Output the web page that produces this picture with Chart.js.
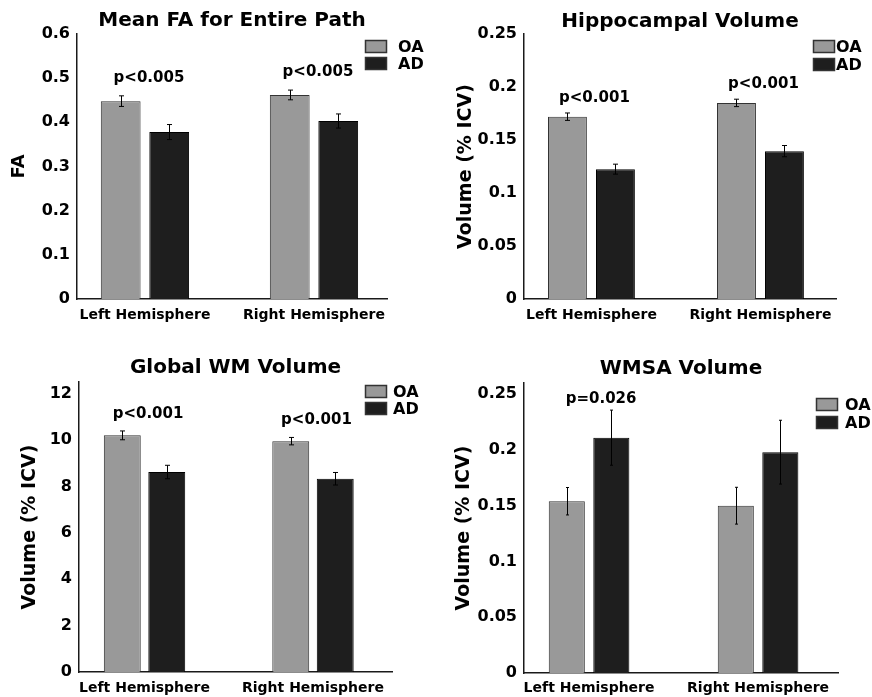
<!DOCTYPE html>
<html>
<head>
<meta charset="utf-8">
<script src="https://cdn.jsdelivr.net/npm/chart.js@4.4.1/dist/chart.umd.min.js"></script>
<style>
  body { margin: 0; background: #fff; }
  #wrap { position: relative; width: 872px; height: 697px; }
  canvas { position: absolute; }
</style>
</head>
<body>
<div id="wrap">
  <canvas id="chartFA" width="436" height="340" style="left:0;top:0"></canvas>
  <canvas id="chartHippo" width="436" height="340" style="left:436px;top:0"></canvas>
  <canvas id="chartWM" width="436" height="357" style="left:0;top:340px"></canvas>
  <canvas id="chartWMSA" width="436" height="357" style="left:436px;top:340px"></canvas>
</div>
<script>
const hemispheres = ["Left Hemisphere", "Right Hemisphere"];
const groups = ["OA", "AD"];

// Mean FA for entire path
const faOA = [0.448, 0.462];
const faAD = [0.378, 0.403];
const faOAErr = [0.012, 0.011];
const faADErr = [0.017, 0.016];
const faP = ["p<0.005", "p<0.005"];
const faTicks = [0, 0.1, 0.2, 0.3, 0.4, 0.5, 0.6];

// Hippocampal volume
const hippoOA = [0.172, 0.185];
const hippoAD = [0.1225, 0.1395];
const hippoOAErr = [0.0035, 0.0035];
const hippoADErr = [0.0047, 0.0053];
const hippoP = ["p<0.001", "p<0.001"];
const hippoTicks = [0, 0.05, 0.1, 0.15, 0.2, 0.25];

// Global WM volume
const wmOA = [10.2, 9.95];
const wmAD = [8.62, 8.33];
const wmOAErr = [0.19, 0.16];
const wmADErr = [0.29, 0.27];
const wmP = ["p<0.001", "p<0.001"];
const wmTicks = [0, 2, 4, 6, 8, 10, 12];

// WMSA volume
const wmsaOA = [0.154, 0.150];
const wmsaAD = [0.211, 0.198];
const wmsaOAErr = [0.0123, 0.0165];
const wmsaADErr = [0.0247, 0.0286];
const wmsaP = ["p=0.026", ""];
const wmsaTicks = [0, 0.05, 0.1, 0.15, 0.2, 0.25];

const FONT = "'DejaVu Sans', 'Liberation Sans', Arial, sans-serif";
const TEXT = "#000";
const COLORS = {
  oa: "#999999",
  oaEdge: "#333333",
  ad: "#1e1e1e",
  adEdge: "#000000",
  axis: "#1a1a1a"
};

Chart.defaults.font.family = FONT;
Chart.defaults.font.weight = "bold";
Chart.defaults.color = TEXT;

const errorBars = {
  id: "errorBars",
  afterDatasetsDraw(chart, args, opts) {
    const { ctx } = chart;
    const yScale = chart.scales.y;
    ctx.save();
    ctx.strokeStyle = "#000";
    ctx.lineWidth = 1;
    chart.data.datasets.forEach((ds, i) => {
      chart.getDatasetMeta(i).data.forEach((bar, j) => {
        const v = ds.data[j].y;
        const e = ds.errors[j];
        const x = Math.round(bar.x) + 0.5;
        const top = yScale.getPixelForValue(v + e);
        const bot = yScale.getPixelForValue(v - e);
        ctx.beginPath();
        ctx.moveTo(x, top);
        ctx.lineTo(x, bot);
        ctx.moveTo(x - opts.cap, top);
        ctx.lineTo(x + opts.cap, top);
        ctx.moveTo(x - opts.cap, bot);
        ctx.lineTo(x + opts.cap, bot);
        ctx.stroke();
      });
    });
    ctx.restore();
  }
};

const pValues = {
  id: "pValues",
  afterDatasetsDraw(chart, args, opts) {
    const { ctx } = chart;
    const yScale = chart.scales.y;
    const sets = chart.data.datasets;
    ctx.save();
    ctx.font = "bold 15px " + FONT;
    ctx.fillStyle = TEXT;
    ctx.textAlign = "center";
    ctx.textBaseline = "middle";
    opts.labels.forEach((txt, j) => {
      if (!txt) return;
      let top = Infinity;
      let xs = 0;
      sets.forEach((ds, i) => {
        xs += chart.getDatasetMeta(i).data[j].x;
        top = Math.min(top, yScale.getPixelForValue(ds.data[j].y + ds.errors[j]));
      });
      ctx.fillText(txt, xs / sets.length + opts.dx, top - opts.gap);
    });
    ctx.restore();
  }
};

const boxLegend = {
  id: "boxLegend",
  afterDraw(chart, args, opts) {
    const { ctx } = chart;
    ctx.save();
    ctx.font = "bold 16px " + FONT;
    ctx.textBaseline = "middle";
    ctx.textAlign = "left";
    chart.data.datasets.forEach((ds, i) => {
      const y = opts.y + i * opts.step;
      ctx.fillStyle = ds.backgroundColor;
      ctx.fillRect(opts.x, y, 22, 13);
      ctx.strokeStyle = "#333";
      ctx.lineWidth = 1.5;
      ctx.strokeRect(opts.x + 0.5, y + 0.5, 21, 12);
      ctx.fillStyle = TEXT;
      ctx.fillText(ds.label, opts.textX, y + 7.5);
    });
    ctx.restore();
  }
};

function fmt(v) {
  return String(Math.round(v * 1000) / 1000);
}

function renderPanel(canvasId, p) {
  const canvas = document.getElementById(canvasId);
  const toPoints = (arr) => arr.map((v, i) => ({ x: i + 1, y: v }));

  new Chart(canvas, {
    type: "bar",
    data: {
      datasets: [
        {
          label: groups[0],
          data: toPoints(p.oa),
          errors: p.oaErr,
          backgroundColor: COLORS.oa,
          borderColor: COLORS.oaEdge,
          borderWidth: 1
        },
        {
          label: groups[1],
          data: toPoints(p.ad),
          errors: p.adErr,
          backgroundColor: COLORS.ad,
          borderColor: COLORS.adEdge,
          borderWidth: 1
        }
      ]
    },
    options: {
      responsive: false,
      animation: false,
      categoryPercentage: p.catPct,
      barPercentage: p.barPct,
      layout: {
        padding: { left: 0, right: p.padRight, top: 0, bottom: 0 }
      },
      plugins: {
        legend: { display: false },
        tooltip: { enabled: false },
        title: {
          display: true,
          text: p.title,
          fullSize: false,
          color: TEXT,
          font: { size: 20, weight: "bold" },
          padding: { top: p.titleTop, bottom: p.titleBottom }
        },
        errorBars: { cap: p.cap },
        pValues: { labels: p.pvals, gap: p.pGap, dx: p.pDx },
        boxLegend: p.legend
      },
      scales: {
        x: {
          type: "linear",
          min: p.xMin,
          max: p.xMax,
          offset: false,
          grid: { display: false, drawTicks: false, offset: false },
          border: { display: true, color: COLORS.axis, width: 1.5 },
          afterBuildTicks(scale) {
            scale.ticks = hemispheres.map((h, i) => ({ value: i + 1 }));
          },
          afterFit(scale) {
            scale.height = p.xHeight;
          },
          ticks: {
            autoSkip: false,
            maxRotation: 0,
            padding: p.xPad,
            font: { size: 14, weight: "bold" },
            callback: (v) => hemispheres[v - 1] || ""
          }
        },
        y: {
          min: 0,
          max: p.yMax,
          grid: { display: false, drawTicks: false },
          border: { display: true, color: COLORS.axis, width: 1.5 },
          afterBuildTicks(scale) {
            scale.ticks = p.ticks.map((v) => ({ value: v }));
          },
          afterFit(scale) {
            scale.width = p.yWidth;
          },
          ticks: {
            padding: 7,
            font: { size: 16, weight: "bold" },
            callback: (v) => fmt(v)
          },
          title: {
            display: true,
            text: p.yTitle,
            color: TEXT,
            font: { size: p.yTitleSize, weight: "bold" },
            padding: { top: p.yTitlePad, bottom: 0 }
          }
        }
      }
    },
    plugins: [errorBars, pValues, boxLegend]
  });
}

renderPanel("chartFA", {
  title: "Mean FA for Entire Path",
  yTitle: "FA", yTitleSize: 18, yTitlePad: 9,
  oa: faOA, ad: faAD, oaErr: faOAErr, adErr: faADErr,
  pvals: faP, pGap: 18, pDx: 4,
  ticks: faTicks, yMax: 0.6,
  xMin: 0.598, xMax: 2.432,
  catPct: 0.574, barPct: 0.82,
  yWidth: 77, xHeight: 41, xPad: 8, padRight: 49,
  titleTop: 9, titleBottom: 1,
  cap: 2.5,
  legend: { x: 365, y: 40, step: 17, textX: 398 }
});

renderPanel("chartHippo", {
  title: "Hippocampal Volume",
  yTitle: "Volume (% ICV)", yTitleSize: 19, yTitlePad: 18.5,
  oa: hippoOA, ad: hippoAD, oaErr: hippoOAErr, adErr: hippoADErr,
  pvals: hippoP, pGap: 15, pDx: 3,
  ticks: hippoTicks, yMax: 0.25,
  xMin: 0.601, xMax: 2.447,
  catPct: 0.568, barPct: 0.81,
  yWidth: 88, xHeight: 41, xPad: 8, padRight: 36,
  titleTop: 10, titleBottom: 0,
  cap: 2.5,
  legend: { x: 377, y: 40, step: 18, textX: 400 }
});

renderPanel("chartWM", {
  title: "Global WM Volume",
  yTitle: "Volume (% ICV)", yTitleSize: 19, yTitlePad: 18.5,
  oa: wmOA, ad: wmAD, oaErr: wmOAErr, adErr: wmADErr,
  pvals: wmP, pGap: 17, pDx: 3.5,
  ticks: wmTicks, yMax: 12.5,
  xMin: 0.611, xMax: 2.469,
  catPct: 0.528, barPct: 0.83,
  yWidth: 79, xHeight: 25, xPad: 8, padRight: 44,
  titleTop: 16, titleBottom: 2,
  cap: 2.5,
  legend: { x: 365, y: 45, step: 17, textX: 393 }
});

renderPanel("chartWMSA", {
  title: "WMSA Volume",
  yTitle: "Volume (% ICV)", yTitleSize: 19, yTitlePad: 16.5,
  oa: wmsaOA, ad: wmsaAD, oaErr: wmsaOAErr, adErr: wmsaADErr,
  pvals: wmsaP, pGap: 11, pDx: 12,
  ticks: wmsaTicks, yMax: 0.26,
  xMin: 0.615, xMax: 2.473,
  catPct: 0.527, barPct: 0.81,
  yWidth: 88, xHeight: 24, xPad: 7, padRight: 34,
  titleTop: 17, titleBottom: 2,
  cap: 1.5,
  legend: { x: 380, y: 58, step: 18, textX: 409 }
});
</script>
</body>
</html>
